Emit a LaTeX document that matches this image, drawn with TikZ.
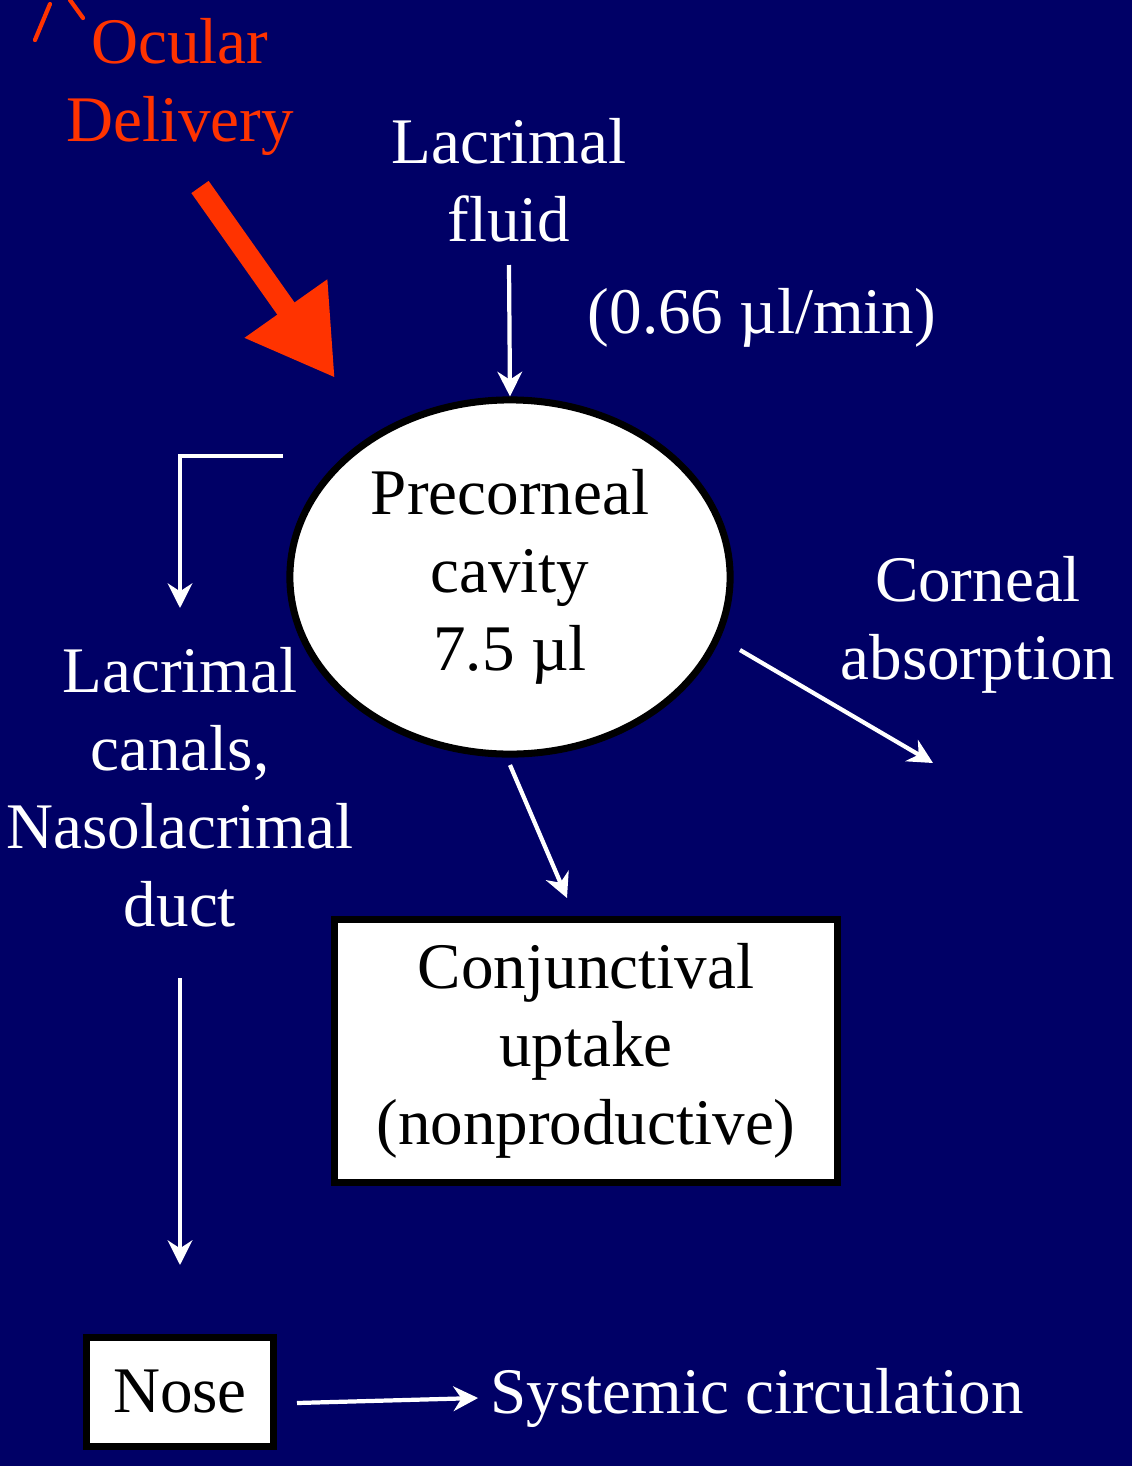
\documentclass[tikz,border=0pt]{standalone}
\usepackage{fontspec}
\setmainfont{Liberation Serif}
\usetikzlibrary{arrows.meta,shapes.geometric}
\definecolor{slideblue}{RGB}{0,0,102}
\definecolor{slidered}{RGB}{255,51,0}
\begin{document}
\begin{tikzpicture}[x=0.01cm,y=-0.01cm,
	txt/.style={align=center,text=white,font=\fontsize{18.5}{22.2}\selectfont},
	flow/.style={draw=white,line width=1.2pt,-{Stealth[length=7pt,width=7pt]}}]
	\fill[slideblue] (0,0) rectangle (1132,1466);
	\useasboundingbox (0,0) rectangle (1132,1466);
	%stray marks
	\draw[slidered,line width=1.2pt,line cap=round] (35,40) -- (50,4);
	\draw[slidered,line width=1.2pt,line cap=round] (70,0) -- (83,18);
	\node[txt,text=slidered] (ocular) at (180,87) {Ocular\\Delivery};
	\coordinate (rs) at (200,187);
	\coordinate (re) at (335,378);
	\draw[slidered,line width=6pt,-{Triangle[length=0.85cm,width=0.95cm]}] (rs) -- (re);
	%centre
	\node[draw=black,line width=2pt,fill=white,ellipse,minimum width=4.4cm,minimum height=3.54cm,inner sep=0pt,
		align=center,font=\fontsize{18.5}{22.2}\selectfont] (cavity) at (510,577) {Precorneal\\cavity\\7.5 µl};
	\node[txt] (fluid) at (509,180) {Lacrimal\\fluid};
	\node[txt] (rate) at (762,318) {(0.66 µl/min)};
	\node[txt] (cornea) at (978,625) {Corneal\\absorption};
	\node[txt] (canals) at (180,787) {Lacrimal\\canals,\\Nasolacrimal\\duct};
	\node[draw=black,line width=2pt,fill=white,align=center,minimum width=5.03cm,minimum height=2.63cm,
		font=\fontsize{18.5}{22.2}\selectfont] (conj) at (586,1051) {Conjunctival\\uptake\\(nonproductive)};
	\node[draw=black,line width=2pt,fill=white,minimum width=1.86cm,minimum height=1.09cm,
		font=\fontsize{18.5}{22.2}\selectfont] (nose) at (180,1392) {Nose};
	\node[txt] (sys) at (757,1398) {Systemic circulation};
	%connectors
	\coordinate (fs) at (509,265);
	\draw[flow] (fs) -- (cavity.north);
	\coordinate (el) at (283,456);
	\coordinate (eb) at (180,608);
	\draw[flow] (el) -- (180,456) -- (eb);
	\coordinate (cs) at (740,650);
	\coordinate (ce) at (933,763);
	\draw[flow] (cs) -- (ce);
	\coordinate (ds) at (510,765);
	\coordinate (de) at (567,898);
	\draw[flow] (ds) -- (de);
	\coordinate (ns) at (180,978);
	\coordinate (ne) at (180,1265);
	\draw[flow] (ns) -- (ne);
	\coordinate (ss) at (297,1403);
	\draw[flow] (ss) -- (sys.west);
\end{tikzpicture}
\end{document}
